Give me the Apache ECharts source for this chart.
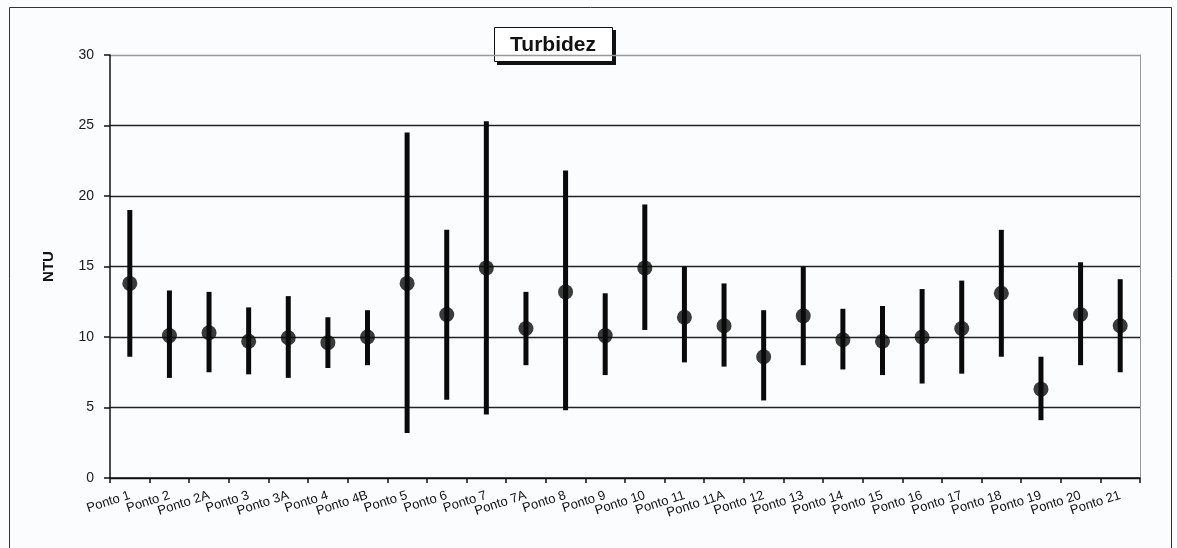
<!DOCTYPE html>
<html>
<head>
<meta charset="utf-8">
<style>
    html, body { margin: 0; padding: 0; background: #fbfcfe; }
    #chart { width: 1177px; height: 548px; }
</style>
<script src="https://cdn.jsdelivr.net/npm/echarts@6/dist/echarts.min.js"></script>
</head>
<body>
<div id="chart"></div>
<script>
    // pontos de coleta
    var categories = ["Ponto 1", "Ponto 2", "Ponto 2A", "Ponto 3", "Ponto 3A", "Ponto 4", "Ponto 4B",
        "Ponto 5", "Ponto 6", "Ponto 7", "Ponto 7A", "Ponto 8", "Ponto 9", "Ponto 10", "Ponto 11",
        "Ponto 11A", "Ponto 12", "Ponto 13", "Ponto 14", "Ponto 15", "Ponto 16", "Ponto 17",
        "Ponto 18", "Ponto 19", "Ponto 20", "Ponto 21"];
    // media, minimo e maximo (NTU)
    var means = [13.8, 10.1, 10.3, 9.7, 9.95, 9.6, 10.0, 13.8, 11.6, 14.9, 10.6, 13.2, 10.1, 14.9, 11.4,
        10.8, 8.6, 11.5, 9.8, 9.7, 10.0, 10.6, 13.1, 6.3, 11.6, 10.8];
    var mins = [8.6, 7.1, 7.5, 7.35, 7.1, 7.8, 8.0, 3.2, 5.55, 4.5, 8.0, 4.8, 7.3, 10.5, 8.2,
        7.9, 5.5, 8.0, 7.7, 7.3, 6.7, 7.4, 8.6, 4.1, 8.0, 7.5];
    var maxs = [19.0, 13.3, 13.2, 12.1, 12.9, 11.4, 11.9, 24.5, 17.6, 25.3, 13.2, 21.8, 13.1, 19.4, 15.0,
        13.8, 11.9, 15.0, 12.0, 12.2, 13.4, 14.0, 17.6, 8.6, 15.3, 14.1];
    var yTicks = [0, 5, 10, 15, 20, 25, 30];

    var chart = echarts.init(document.getElementById("chart"));
    var font = "Liberation Sans, Arial, sans-serif";

    var rangeData = categories.map(function (c, i) { return [i, mins[i], maxs[i]]; });

    var option = {
        backgroundColor: "#fbfcfe",
        animation: false,
        textStyle: { fontFamily: font },
        graphic: [{
            type: "rect",
            shape: { x: 9.5, y: 7.5, width: 1162, height: 560 },
            style: { fill: null, stroke: "#333", lineWidth: 1 },
            silent: true
        }, {
            // caixa do titulo com sombra
            type: "group",
            left: 494,
            top: 27,
            z: 100,
            children: [{
                type: "rect",
                shape: { x: 3, y: 3, width: 119, height: 35 },
                style: { fill: "#111" }
            }, {
                type: "rect",
                shape: { x: 0.5, y: 0.5, width: 118, height: 34 },
                style: { fill: "#fff", stroke: "#111", lineWidth: 1 }
            }, {
                type: "text",
                x: 59,
                y: 18,
                style: {
                    text: "Turbidez",
                    align: "center",
                    verticalAlign: "middle",
                    fontFamily: font,
                    fontSize: 21,
                    fontWeight: "bold",
                    fill: "#111"
                }
            }]
        }],
        grid: { left: 110, right: 37, top: 55, bottom: 70 },
        xAxis: {
            type: "category",
            data: categories,
            boundaryGap: true,
            axisLine: { lineStyle: { color: "#111", width: 1.5 } },
            axisTick: { show: true, length: 5, lineStyle: { color: "#111", width: 1.5 } },
            axisLabel: { rotate: 18, fontSize: 13, color: "#111", interval: 0, margin: 17, fontFamily: font },
            splitLine: { show: false }
        },
        yAxis: [{
            type: "value",
            min: yTicks[0],
            max: yTicks[yTicks.length - 1],
            interval: 5,
            name: "NTU",
            nameLocation: "middle",
            nameGap: 54,
            nameTextStyle: { fontSize: 15, fontWeight: "bold", color: "#111", fontFamily: font },
            axisLine: { show: true, lineStyle: { color: "#111", width: 1.5 } },
            axisTick: { show: true, length: 6, lineStyle: { color: "#111", width: 1.5 } },
            axisLabel: { fontSize: 14, color: "#1a1a1a", margin: 16, fontFamily: font },
            splitLine: {
                show: true,
                lineStyle: { color: ["#111", "#222", "#222", "#222", "#222", "#222", "#999"], width: 1.3 }
            }
        }, {
            type: "value",
            position: "right",
            min: 0,
            max: 30,
            interval: 5,
            axisLine: { show: true, lineStyle: { color: "#999", width: 1 } },
            axisTick: { show: false },
            axisLabel: { show: false },
            splitLine: { show: false }
        }],
        series: [{
            type: "custom",
            name: "faixa",
            data: rangeData,
            renderItem: function (params, api) {
                var x = api.value(0);
                var lo = api.coord([x, api.value(1)]);
                var hi = api.coord([x, api.value(2)]);
                return {
                    type: "line",
                    shape: { x1: lo[0], y1: lo[1], x2: hi[0], y2: hi[1] },
                    style: { stroke: "#0a0a0a", lineWidth: 5 }
                };
            },
            z: 2
        }, {
            type: "scatter",
            name: "media",
            data: means,
            symbol: "circle",
            symbolSize: 15,
            itemStyle: { color: "#0a0a0a" },
            z: 3
        }]
    };
    chart.setOption(option);
</script>
</body>
</html>
